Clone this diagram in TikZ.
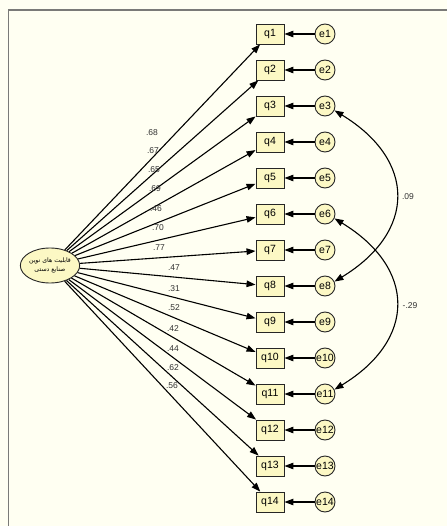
\documentclass[tikz,border=0pt]{standalone}
\usepackage{fontspec}
\setmainfont{Liberation Sans}
\newfontfamily\arabicfont[Script=Arabic]{DejaVu Sans}
\TeXXeTstate=1
\usetikzlibrary{arrows.meta,shapes.geometric}
\definecolor{bgc}{HTML}{FFFFF2}
\definecolor{boxc}{HTML}{FCF8C4}
\definecolor{framec}{HTML}{7A7A78}
\definecolor{labc}{HTML}{333333}
\tikzset{
  obs/.style={draw=black!85, fill=boxc, line width=0.9pt, minimum width=28pt, minimum height=20pt, inner sep=0pt, font=\fontsize{10.5}{11}\selectfont},
  err/.style={draw=black!85, fill=boxc, circle, line width=0.9pt, minimum size=20pt, inner sep=0pt, font=\fontsize{10.5}{11}\selectfont},
  lat/.style={draw=black!85, fill=boxc, ellipse, line width=0.9pt, minimum width=55pt, minimum height=35pt, inner sep=0pt, align=center, font=\arabicfont\fontsize{6.2}{9}\selectfont},
  path/.style={line width=1.1pt, -{Triangle[length=9pt,width=6.5pt]}},
  cov/.style={line width=1.1pt, {Triangle[length=9pt,width=6.5pt]}-{Triangle[length=9pt,width=6.5pt]}},
  lab/.style={font=\fontsize{8.5}{9}\selectfont, text=labc, inner sep=0pt}
}
\begin{document}
\begin{tikzpicture}[x=1pt,y=-1pt]
\fill[bgc] (0,0) rectangle (447,526);
\useasboundingbox (0,0) rectangle (447,526);
\draw[framec, line width=1.6pt] (8.5,526) -- (8.5,10) -- (447,10);
\node[lat] (L) at (50,265.5) {\beginR قابلیت های نوین\endR\\\beginR صنایع دستی\endR};
\foreach \i in {1,...,14}{
  \pgfmathsetmacro{\yy}{34+36*(\i-1)}
  \node[obs] (q\i) at (270,\yy) {q\i};
  \node[err] (e\i) at (325,\yy) {e\i};
  \draw[path] (e\i) -- (q\i);
  \draw[path] (L) -- (q\i);
}
\node[lab] (l1) at (152,133) {.68};
\node[lab] (l2) at (153,151) {.67};
\node[lab] (l3) at (154,170) {.65};
\node[lab] (l4) at (155,189) {.69};
\node[lab] (l5) at (156,209) {.46};
\node[lab] (l6) at (158,228) {.70};
\node[lab] (l7) at (159,248) {.77};
\node[lab] (l8) at (174,268) {.47};
\node[lab] (l9) at (174,289) {.31};
\node[lab] (l10) at (174,308) {.52};
\node[lab] (l11) at (173,329) {.42};
\node[lab] (l12) at (173,349) {.44};
\node[lab] (l13) at (173,368) {.62};
\node[lab] (l14) at (172,386) {.56};
\draw[cov] (e3.-25) .. controls +(82,50) and +(82,-50) .. (e8.25);
\draw[cov] (e6.-25) .. controls +(82,50) and +(82,-50) .. (e11.25);
\node[lab] (c1) at (408,197) {.09};
\node[lab] (c2) at (410,306) {-.29};
\end{tikzpicture}
\end{document}
